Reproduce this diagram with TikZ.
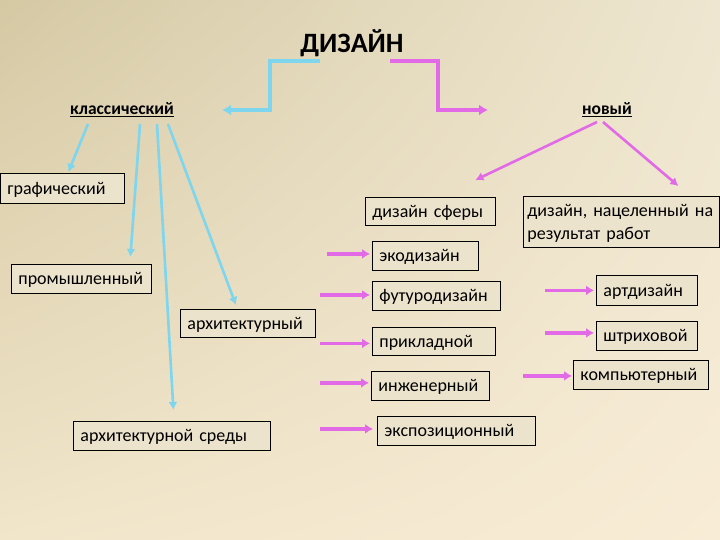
\documentclass[tikz,border=0pt]{standalone}
\usepackage{fontspec}
\setmainfont{Carlito}
\usetikzlibrary{arrows.meta,shadings}
\definecolor{cyanA}{HTML}{7DD6EE}
\definecolor{magA}{HTML}{E26AE6}
\definecolor{boxfill}{HTML}{ECE3CD}
\definecolor{bgUL}{HTML}{D5C9A4}
\definecolor{bgUR}{HTML}{EEE6D0}
\definecolor{bgLL}{HTML}{F1E5CA}
\definecolor{bgLR}{HTML}{F8ECD6}
\begin{document}
\begin{tikzpicture}[x=1pt,y=-1pt,
  box/.style 2 args={draw=black, line width=0.8pt, fill=boxfill, anchor=north west,
    inner xsep=7pt, inner ysep=0pt, text width=#1, minimum height=#2, align=left,
    text height=13.5pt, text depth=1.5pt,
    font=\fontsize{18}{23}\selectfont},
  lbl/.style={font=\fontsize{17.5}{20}\selectfont\bfseries, inner sep=1pt},
  cy/.style={draw=cyanA, line width=2.6pt, -{Latex[length=8pt,width=9pt]}},
  mg/.style={draw=magA, line width=2.6pt, -{Latex[length=8pt,width=9pt]}},
  cyel/.style={draw=cyanA, line width=3.6pt, -{Latex[length=9pt,width=11pt]}},
  mgel/.style={draw=magA, line width=3.6pt, -{Latex[length=9pt,width=11pt]}},
  mgs/.style={draw=magA, line width=3.4pt, -{Latex[length=8pt,width=10pt]}}]
\useasboundingbox (0,0) rectangle (720,540);
\shade[upper left=bgUL, upper right=bgUR, lower left=bgLL, lower right=bgLR] (0,0) rectangle (720,540);

% title and labels
\node[font=\fontsize{28}{30}\selectfont\bfseries] (title) at (352,43) {ДИЗАЙН};
\node[lbl] (klass) at (122,110) {\underline{классический}};
\node[lbl] (novyi) at (607,110) {\underline{новый}};

% boxes
\node[box={110pt}{30pt}] (graf) at (0,173) {графический};
\node[box={126pt}{29pt}] (prom) at (11,264) {промышленный};
\node[box={121pt}{28pt}] (arch) at (180,309) {архитектурный};
\node[box={183pt}{29pt}] (archs) at (73,421) {архитектурной среды};
\node[box={116pt}{28pt}] (sfer) at (365,197) {дизайн сферы};
\node[box={188pt}{51pt}, inner xsep=4pt, text depth=24.5pt] (result) at (523,196) {дизайн, нацеленный на\\результат работ};
\node[box={92pt}{29pt}] (eko) at (372,241) {экодизайн};
\node[box={114pt}{29pt}] (futuro) at (372,281) {футуродизайн};
\node[box={109pt}{28pt}] (prikl) at (372,327) {прикладной};
\node[box={104pt}{29pt}] (inzh) at (371,371) {инженерный};
\node[box={144pt}{29pt}] (expo) at (377,416) {экспозиционный};
\node[box={87pt}{30pt}] (art) at (596,275) {артдизайн};
\node[box={87pt}{29pt}] (shtrih) at (596,321) {штриховой};
\node[box={121pt}{29pt}] (komp) at (573,360) {компьютерный};

% elbow arrows from title
\coordinate (tL) at (320,61);
\coordinate (tR) at (390,61);
\coordinate (kEnd) at (222,110);
\coordinate (nEnd) at (488,110);
\draw[cyel] (tL) -- (270,61) -- (270,110) -- (kEnd);
\draw[mgel] (tR) -- (438,61) -- (438,110) -- (nEnd);

% classic branches
\draw[cy] (88,124) -- ([xshift=6pt,yshift=1pt]graf.north);
\draw[cy] (140,124) -- ([xshift=49pt,yshift=7pt]prom.north);
\draw[cy] (157,124) -- ([xshift=1.5pt,yshift=11pt]archs.north);
\draw[cy] (168,124) -- ([xshift=-12pt,yshift=4pt]arch.north);

% new branches
\draw[mg] (597,122) -- ([xshift=45pt,yshift=17pt]sfer.north);
\draw[mg] (603,122) -- ([xshift=57pt,yshift=10pt]result.north);

% short arrows
\draw[mgs] ([xshift=-45pt,yshift=2pt]eko.west) -- ([xshift=-2pt,yshift=2pt]eko.west);
\draw[mgs] ([xshift=-52pt,yshift=1pt]futuro.west) -- ([xshift=-2pt,yshift=1pt]futuro.west);
\draw[mgs] ([xshift=-52pt,yshift=-2pt]prikl.west) -- ([xshift=-2pt,yshift=-2pt]prikl.west);
\draw[mgs] ([xshift=-51pt,yshift=3pt]inzh.west) -- ([xshift=-2pt,yshift=3pt]inzh.west);
\draw[mgs] ([xshift=-57pt,yshift=2pt]expo.west) -- ([xshift=-4pt,yshift=2pt]expo.west);
\draw[mgs] ([xshift=-51pt]art.west) -- ([xshift=-2pt]art.west);
\draw[mgs] ([xshift=-51pt,yshift=3pt]shtrih.west) -- ([xshift=-2pt,yshift=3pt]shtrih.west);
\draw[mgs] ([xshift=-50pt,yshift=-1pt]komp.west) -- ([xshift=-1pt,yshift=-1pt]komp.west);
\end{tikzpicture}
\end{document}
